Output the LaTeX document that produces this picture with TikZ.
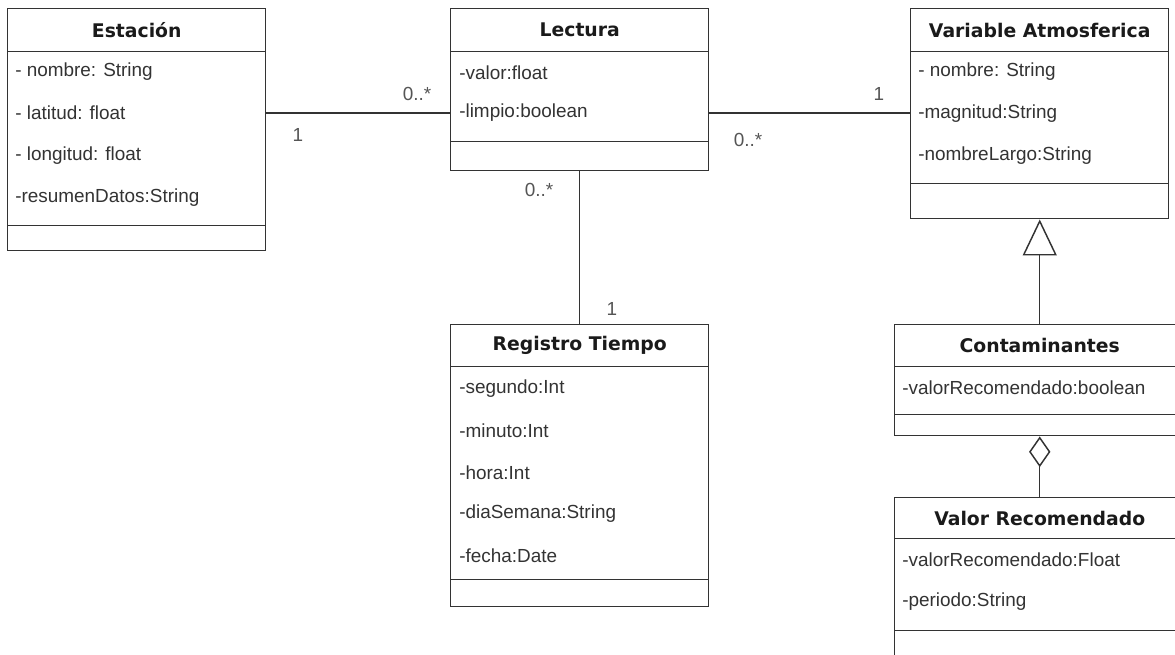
\documentclass[tikz,border=0pt]{standalone}
\usepackage{fontspec}
\setmainfont{Liberation Sans}
\newfontfamily\hdrfont{DejaVu Sans}
\usetikzlibrary{arrows.meta}
\definecolor{linec}{HTML}{333333}
\definecolor{attrc}{HTML}{333333}
\definecolor{lblc}{HTML}{555555}
\definecolor{hdrc}{HTML}{1A1A1A}
\begin{document}
\begin{tikzpicture}[x=0.75pt,y=-0.75pt,
  sect/.style={draw=linec, line width=1.1pt, rectangle, inner sep=0pt, anchor=north west, fill=white},
  hdr/.style={sect, font=\hdrfont\bfseries\fontsize{14.1pt}{16pt}\selectfont, text=hdrc},
  attr/.style={anchor=west, inner sep=0pt, font=\fontsize{14.2pt}{16pt}\selectfont, text=attrc},
  lbl/.style={inner sep=0pt, font=\fontsize{14.2pt}{16pt}\selectfont, text=lblc},
  conn/.style={draw=linec, line width=1.1pt}
]
\clip (0,0) rectangle (1175,654);
\fill[white] (0,0) rectangle (1175,654);

% Estacion
\node[hdr, minimum width=258*0.75pt, minimum height=43*0.75pt] (estH) at (7,8) {Estación};
\node[sect, minimum width=258*0.75pt, minimum height=174*0.75pt] (estA) at (7,51) {};
\node[sect, minimum width=258*0.75pt, minimum height=25*0.75pt] (estM) at (7,225) {};
\node[attr] (estA1) at (15,72) {- nombre: String};
\node[attr] (estA2) at (15,113) {- latitud: float};
\node[attr] (estA3) at (15,156) {- longitud: float};
\node[attr] (estA4) at (15,198) {-resumenDatos:String};

% Lectura
\node[hdr, minimum width=258*0.75pt, minimum height=43*0.75pt] (lecH) at (450,8) {Lectura};
\node[sect, minimum width=258*0.75pt, minimum height=90*0.75pt] (lecA) at (450,51) {};
\node[sect, minimum width=258*0.75pt, minimum height=29*0.75pt] (lecM) at (450,141) {};
\node[attr] (lecA1) at (459,73) {-valor:float};
\node[attr] (lecA2) at (459,113) {-limpio:boolean};

% Variable Atmosferica
\node[hdr, minimum width=258*0.75pt, minimum height=43*0.75pt] (vaH) at (910,8) {Variable Atmosferica};
\node[sect, minimum width=258*0.75pt, minimum height=132*0.75pt] (vaA) at (910,51) {};
\node[sect, minimum width=258*0.75pt, minimum height=35*0.75pt] (vaM) at (910,183) {};
\node[attr] (vaA1) at (918,72) {- nombre: String};
\node[attr] (vaA2) at (918,114) {-magnitud:String};
\node[attr] (vaA3) at (918,156) {-nombreLargo:String};

% Registro Tiempo
\node[hdr, minimum width=258*0.75pt, minimum height=42*0.75pt] (regH) at (450,324) {Registro Tiempo};
\node[sect, minimum width=258*0.75pt, minimum height=213*0.75pt] (regA) at (450,366) {};
\node[sect, minimum width=258*0.75pt, minimum height=27*0.75pt] (regM) at (450,579) {};
\node[attr] (regA1) at (459,389) {-segundo:Int};
\node[attr] (regA2) at (459,431) {-minuto:Int};
\node[attr] (regA3) at (459,473) {-hora:Int};
\node[attr] (regA4) at (459,514) {-diaSemana:String};
\node[attr] (regA5) at (459,556) {-fecha:Date};

% Contaminantes
\node[hdr, minimum width=290*0.75pt, minimum height=42*0.75pt] (conH) at (894,324) {Contaminantes};
\node[sect, minimum width=290*0.75pt, minimum height=48*0.75pt] (conA) at (894,366) {};
\node[sect, minimum width=290*0.75pt, minimum height=21*0.75pt] (conM) at (894,414) {};
\node[attr] (conA1) at (902,388) {-valorRecomendado:boolean};

% Valor Recomendado
\node[hdr, minimum width=290*0.75pt, minimum height=41*0.75pt] (vrH) at (894,497) {Valor Recomendado};
\node[sect, minimum width=290*0.75pt, minimum height=92*0.75pt] (vrA) at (894,538) {};
\node[sect, minimum width=290*0.75pt, minimum height=40*0.75pt] (vrM) at (894,630) {};
\node[attr] (vrA1) at (902,560) {-valorRecomendado:Float};
\node[attr] (vrA2) at (902,602) {-periodo:String};

% Connectors
\draw[conn] (estA.east |- estA2) -- (lecA.west |- estA2);
\draw[conn] (lecA.east |- lecA2) -- (vaA.west |- lecA2);
\draw[conn] (lecM.south) -- (regH.north);
\draw[conn, -{Triangle[open, fill=white, width=25.5pt, length=27pt]}] (conH.north) -- (vaM.south);
\draw[conn, -{Diamond[open, fill=white, width=16pt, length=23pt]}] (vrH.north) -- (conM.south);

% Multiplicities
\node[lbl] (m1) at (417,94) {0..*};
\node[lbl] (m2) at (298,135) {1};
\node[lbl] (m3) at (879,94) {1};
\node[lbl] (m4) at (748,140) {0..*};
\node[lbl] (m5) at (539,190) {0..*};
\node[lbl] (m6) at (612,309) {1};
\end{tikzpicture}
\end{document}
